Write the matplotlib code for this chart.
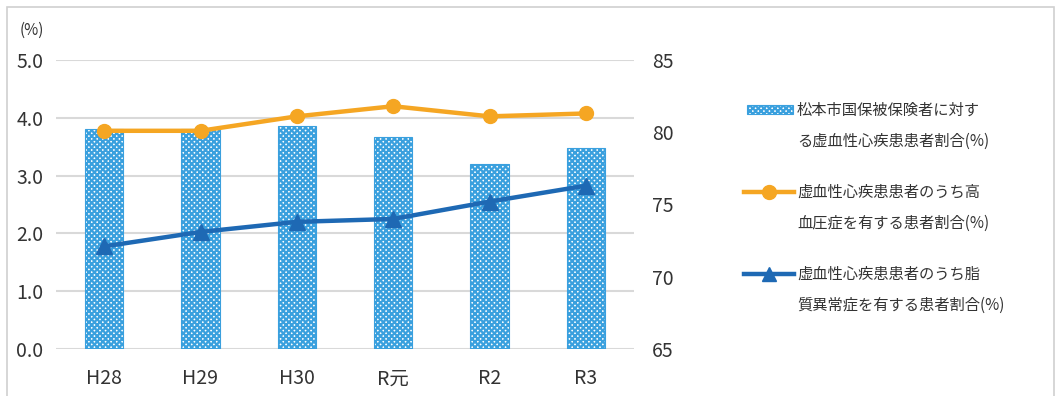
import numpy as np
import matplotlib
matplotlib.use('Agg')
from matplotlib import pyplot as plt
from matplotlib.lines import Line2D
from matplotlib.patches import Rectangle

plt.rcParams['font.family'] = ['Noto Sans CJK JP', 'DejaVu Sans']
plt.rcParams['hatch.color'] = '#1a8ad4'
plt.rcParams['hatch.linewidth'] = 1.6

years = ['H28', 'H29', 'H30', 'R元', 'R2', 'R3']
rate_all = [3.80, 3.81, 3.85, 3.66, 3.20, 3.48]        # left axis (%)
rate_hypertension = [80.1, 80.1, 81.1, 81.8, 81.1, 81.3]  # right axis (%)
rate_dyslipidemia = [72.1, 73.1, 73.8, 74.0, 75.2, 76.3]  # right axis (%)

label_bar = '松本市国保被保険者に対す\nる虚血性心疾患患者割合(%)'
label_orange = '虚血性心疾患患者のうち高\n血圧症を有する患者割合(%)'
label_blue = '虚血性心疾患患者のうち脂\n質異常症を有する患者割合(%)'

text_col = '#333333'
orange = '#f5a623'
blue = '#1e69b4'

fig = plt.figure(figsize=(10.57, 3.96), dpi=100)
ax = fig.add_axes([56 / 1057, 1 - 349 / 396, (634 - 56) / 1057, (349 - 60) / 396])
x = np.arange(len(years))

ax.bar(x, rate_all, width=0.4, facecolor='white', edgecolor='#3aa0de',
       hatch='xxxxxx', linewidth=0.8, zorder=2)
ax.set_ylim(0, 5)
ax.set_yticks(np.arange(0, 5.01, 1.0))
ax.set_yticklabels([f'{v:.1f}' for v in np.arange(0, 5.01, 1.0)])
ax.set_xlim(-0.5, len(years) - 0.5)
ax.set_xticks(x)
ax.set_xticklabels(years)
ax.grid(axis='y', color='#d9d9d9', linewidth=1.5, zorder=0)
ax.set_axisbelow(True)
for s in ax.spines.values():
    s.set_visible(False)
ax.tick_params(length=0, labelsize=14, colors=text_col)
ax.tick_params(axis='y', pad=9)
ax.tick_params(axis='x', pad=14)

ax2 = ax.twinx()
ax2.plot(x, rate_hypertension, color=orange, linewidth=3.2, marker='o',
         markersize=10, zorder=3)
ax2.plot(x, rate_dyslipidemia, color=blue, linewidth=3.2, marker='^',
         markersize=12, zorder=3)
ax2.set_ylim(65, 85)
ax2.set_yticks([65, 70, 75, 80, 85])
for s in ax2.spines.values():
    s.set_visible(False)
ax2.tick_params(length=0, labelsize=14, colors=text_col, pad=13)

fig.text(32 / 1057, 1 - 30 / 396, '(%)', fontsize=11, color=text_col,
         ha='center', va='center')

# legend (drawn by hand so the handle sits on the first line)
W, H = 1057, 396
def fx(px):
    return px / W
def fy(py):
    return 1 - py / H

fig.add_artist(Rectangle((fx(747), fy(114)), fx(793) - fx(747), 9 / H,
                         facecolor='white', edgecolor='#3aa0de', hatch='xxxxxx',
                         linewidth=0.8, transform=fig.transFigure))
fig.add_artist(Line2D([fx(744), fx(769), fx(794)], [fy(192)] * 3, color=orange,
                      linewidth=3.2, marker='o', markersize=10, markevery=[1],
                      transform=fig.transFigure))
fig.add_artist(Line2D([fx(744), fx(769), fx(794)], [fy(274)] * 3, color=blue,
                      linewidth=3.2, marker='^', markersize=10, markevery=[1],
                      transform=fig.transFigure))
for py, lab in [(110, label_bar), (192, label_orange), (274, label_blue)]:
    fig.text(fx(797), fy(py - 8), lab, fontsize=11, color=text_col,
             ha='left', va='top', linespacing=2.1)

fig.add_artist(Rectangle((fx(7), -0.05), fx(1054) - fx(7), fy(7) + 0.05,
                         facecolor='none', edgecolor='#d0d0d0', linewidth=1.2,
                         transform=fig.transFigure))

fig.savefig('out.png', dpi=100)
